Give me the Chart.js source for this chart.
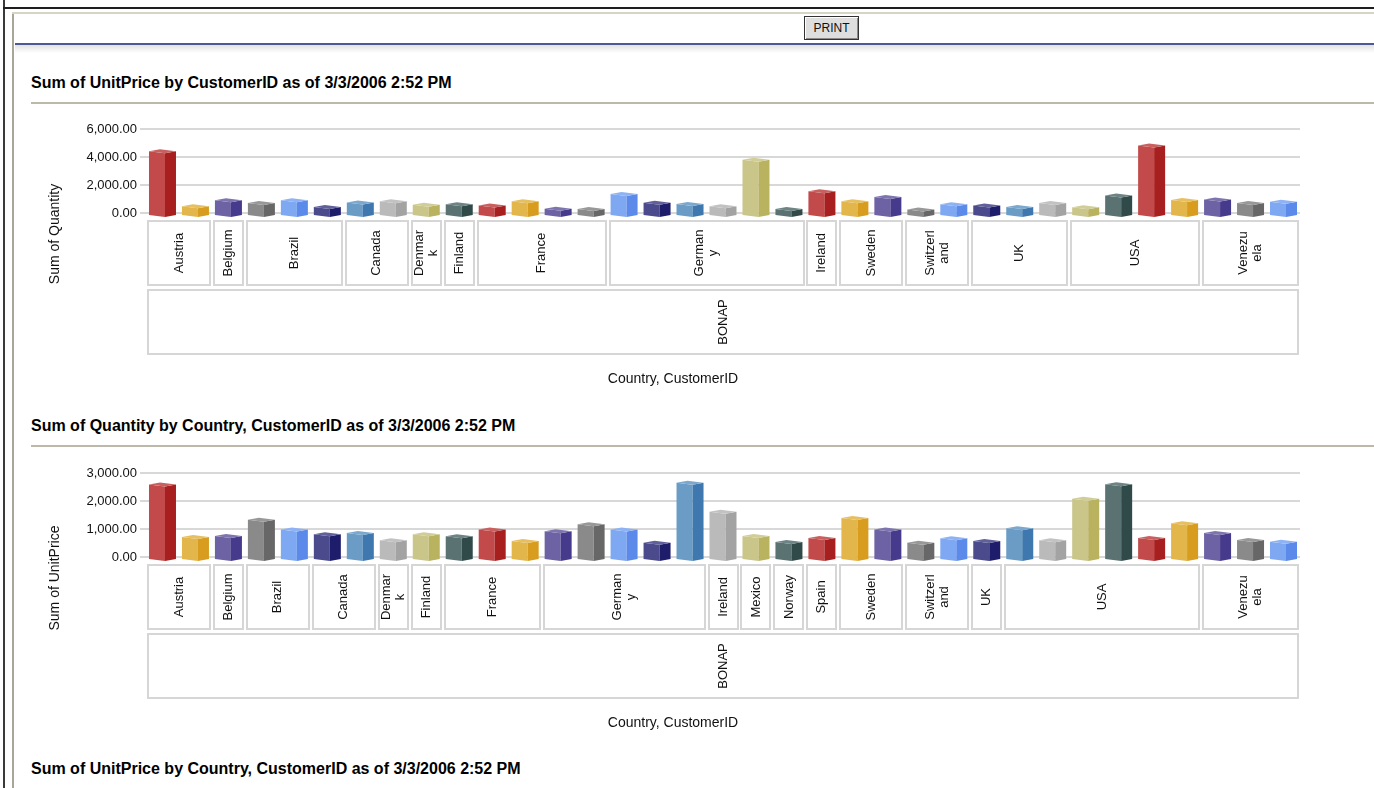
<!DOCTYPE html>
<html>
<head>
<meta charset="utf-8">
<title>Sales report</title>
<script src="https://cdn.jsdelivr.net/npm/chart.js@4.4.1/dist/chart.umd.min.js"></script>
<style>
  html, body { margin: 0; padding: 0; background: #fff; width: 1374px; height: 788px; overflow: hidden;
    font-family: "Liberation Sans", Arial, sans-serif; }
  .abs { position: absolute; }
  .frame-outer-v { left: 3px; top: 0; width: 2px; height: 788px; background: #3a3a3a; }
  .frame-outer-h { left: 3px; top: 7px; right: 0; height: 2px; background: #1e1e1e; }
  .frame-inner-v { left: 12px; top: 12px; width: 2px; height: 776px; background: #a9a698; }
  .frame-inner-h { left: 12px; top: 12px; right: 0; height: 2px; background: #d8d4c4; }
  .print { left: 804px; top: 16px; width: 55px; height: 24px; box-sizing: border-box;
    border: 1px solid #333; background: #dedede; box-shadow: inset 1px 1px #fff, inset -1px -1px #8a8a8a;
    font-size: 12px; line-height: 22px; text-align: center; color: #111; }
  .rule-blue { left: 15px; top: 43px; right: 0; height: 2px; background: #4b5a97; }
  .rule-shade { left: 15px; top: 45px; right: 0; height: 8px; background: linear-gradient(#e2e2e2, #fff); }
  .title { left: 31px; font-weight: bold; font-size: 16px; line-height: 16px; color: #000; white-space: nowrap; }
  .rule { left: 31px; right: 0; height: 2px; background: #bcb8aa; }
  canvas { position: absolute; left: 0; }
</style>
</head>
<body>
<div class="abs frame-outer-v"></div>
<div class="abs frame-outer-h"></div>
<div class="abs frame-inner-v"></div>
<div class="abs frame-inner-h"></div>
<div class="abs print">PRINT</div>
<div class="abs rule-blue"></div>
<div class="abs rule-shade"></div>

<div class="abs title" style="top:75px">Sum of UnitPrice by CustomerID as of 3/3/2006 2:52 PM</div>
<div class="abs rule" style="top:102px"></div>
<canvas id="chartQuantity" width="1374" height="290" style="top:110px"></canvas>

<div class="abs title" style="top:418px">Sum of Quantity by Country, CustomerID as of 3/3/2006 2:52 PM</div>
<div class="abs rule" style="top:445px"></div>
<canvas id="chartPrice" width="1374" height="290" style="top:454px"></canvas>

<div class="abs title" style="top:761px">Sum of UnitPrice by Country, CustomerID as of 3/3/2006 2:52 PM</div>

<script>
// ---- data ----
const customerId = 'BONAP';
const xAxisTitle = 'Country, CustomerID';

const countriesTop = [
  'Austria', 'Austria', 'Belgium', 'Brazil', 'Brazil', 'Brazil', 'Canada', 'Canada',
  'Denmark', 'Finland', 'France', 'France', 'France', 'France',
  'Germany', 'Germany', 'Germany', 'Germany', 'Germany', 'Germany',
  'Ireland', 'Sweden', 'Sweden', 'Switzerland', 'Switzerland', 'UK', 'UK', 'UK',
  'USA', 'USA', 'USA', 'USA', 'Venezuela', 'Venezuela', 'Venezuela'
];
const valuesTop = [
  4550, 620, 1050, 860, 1050, 570, 900, 980,
  740, 760, 670, 980, 450, 430,
  1500, 880, 790, 620, 3950, 430,
  1690, 980, 1290, 400, 760, 670, 570, 860,
  550, 1400, 4970, 1070, 1100, 860, 950
];
const ticksTop = { max: 6000, step: 2000 };
const yTitleTop = 'Sum of Quantity';

const countriesBottom = [
  'Austria', 'Austria', 'Belgium', 'Brazil', 'Brazil', 'Canada', 'Canada',
  'Denmark', 'Finland', 'France', 'France', 'France',
  'Germany', 'Germany', 'Germany', 'Germany', 'Germany',
  'Ireland', 'Mexico', 'Norway', 'Spain', 'Sweden', 'Sweden',
  'Switzerland', 'Switzerland', 'UK',
  'USA', 'USA', 'USA', 'USA', 'USA', 'USA', 'Venezuela', 'Venezuela', 'Venezuela'
];
const valuesBottom = [
  2660, 790, 820, 1400, 1050, 880, 930,
  670, 880, 810, 1050, 640,
  990, 1240, 1050, 580, 2720,
  1690, 820, 610, 750, 1460, 1050,
  580, 740, 640,
  1100, 670, 2150, 2670, 750, 1280, 930, 680, 620
];
const ticksBottom = { max: 3000, step: 1000 };
const yTitleBottom = 'Sum of UnitPrice';

// country names as they wrap inside their narrow boxes
const wrappedNames = {
  Denmark: ['Denmar', 'k'],
  Germany: ['German', 'y'],
  Switzerland: ['Switzerl', 'and'],
  Venezuela: ['Venezu', 'ela']
};

// ---- styling ----
const FONT = '"Liberation Sans", Arial, sans-serif';
const palette = [            // [front face, side face]
  ['#c24a4a', '#a81f1f'],
  ['#e3b64c', '#d89c1e'],
  ['#6c62a4', '#463a8c'],
  ['#8a8a8a', '#676767'],
  ['#7fa8f2', '#5b8aea'],
  ['#4a4a8c', '#1d1d6c'],
  ['#6a9cc6', '#3e78ae'],
  ['#bababa', '#a3a3a3'],
  ['#cac68a', '#b9b25f'],
  ['#5a7272', '#2f4a48']
];

function lighten(hex, t) {
  const n = parseInt(hex.slice(1), 16);
  const r = (n >> 16) & 255, g = (n >> 8) & 255, b = n & 255;
  const m = c => Math.round(c + (255 - c) * t);
  return `rgb(${m(r)},${m(g)},${m(b)})`;
}

function poly(ctx, pts, fill) {
  ctx.beginPath();
  ctx.moveTo(pts[0][0], pts[0][1]);
  for (let k = 1; k < pts.length; k++) ctx.lineTo(pts[k][0], pts[k][1]);
  ctx.closePath();
  ctx.fillStyle = fill;
  ctx.fill();
}

// 3D boxes on top of each bar element, then the grouped category boxes below the plot
const boxBars = {
  id: 'boxBars',
  afterDatasetsDraw(chart) {
    const ctx = chart.ctx;
    const meta = chart.getDatasetMeta(0);
    ctx.save();
    meta.data.forEach((el, i) => {
      const { x, y, base } = el.getProps(['x', 'y', 'base'], true);
      const [front, side] = palette[i % palette.length];
      const L = x - 13.5, M = x + 2.5, R = x + 13.5;
      poly(ctx, [[L, y + 2], [M, y + 4], [M, base + 5], [L, base + 3]], front);
      poly(ctx, [[M, y + 4], [R, y + 2], [R, base + 3], [M, base + 5]], side);
      poly(ctx, [[L, y + 2], [L + 11, y], [R, y + 2], [M, y + 4]], lighten(front, 0.12));
    });
    ctx.restore();
  },
  afterDraw(chart, args, opts) {
    const { ctx, chartArea: ca } = chart;
    const xs = chart.scales.x;
    const slot = xs.getPixelForValue(1) - xs.getPixelForValue(0);

    const groups = [];
    opts.countries.forEach((c, i) => {
      const g = groups[groups.length - 1];
      if (g && g.name === c) g.end = i; else groups.push({ name: c, start: i, end: i });
    });

    const drawBox = (l, t, r, b) => {
      ctx.lineWidth = 2;
      ctx.strokeStyle = '#d6d6d6';
      ctx.strokeRect(Math.round(l), Math.round(t), Math.round(r - l), Math.round(b - t));
    };
    const drawVertical = (lines, cx, cy, clip) => {
      ctx.save();
      if (clip) {
        ctx.beginPath();
        ctx.rect(clip[0], clip[1], clip[2] - clip[0], clip[3] - clip[1]);
        ctx.clip();
      }
      ctx.translate(cx, cy);
      ctx.rotate(-Math.PI / 2);
      ctx.font = '13px ' + FONT;
      ctx.fillStyle = '#111';
      ctx.textAlign = 'center';
      ctx.textBaseline = 'middle';
      lines.forEach((s, k) => ctx.fillText(s, 0, (k - (lines.length - 1) / 2) * 14));
      ctx.restore();
    };

    ctx.save();
    const rowT = ca.bottom + 8, rowB = ca.bottom + 72;
    let firstL = null, lastR = null;
    groups.forEach(g => {
      const l = xs.getPixelForValue(g.start) - slot / 2 + 2;
      const r = xs.getPixelForValue(g.end) + slot / 2 - 2;
      if (firstL === null) firstL = l;
      lastR = r;
      drawBox(l, rowT, r, rowB);
      const lines = wrappedNames[g.name] || [g.name];
      drawVertical(lines, (l + r) / 2, (rowT + rowB) / 2, [l + 2, rowT + 1, r - 1, rowB - 1]);
    });

    const custT = ca.bottom + 77, custB = ca.bottom + 141;
    drawBox(firstL, custT, lastR, custB);
    drawVertical([opts.customer], (firstL + lastR) / 2, (custT + custB) / 2, null);

    // axis titles
    ctx.fillStyle = '#111';
    ctx.font = '14px ' + FONT;
    ctx.textAlign = 'center';
    ctx.textBaseline = 'middle';
    ctx.fillText(opts.xTitle, 673, ca.bottom + 166);
    ctx.translate(55, ca.bottom + 21);
    ctx.rotate(-Math.PI / 2);
    ctx.fillText(opts.yTitle, 0, 0);
    ctx.restore();
  }
};

const fmt = v => v.toLocaleString('en-US', { minimumFractionDigits: 2, maximumFractionDigits: 2 });

function makeChart(id, countries, values, ticks, yTitle) {
  return new Chart(document.getElementById(id), {
    type: 'bar',
    data: {
      labels: countries,
      datasets: [{
        data: values,
        backgroundColor: 'rgba(0,0,0,0)',
        barThickness: 27
      }]
    },
    plugins: [boxBars],
    options: {
      responsive: false,
      animation: false,
      devicePixelRatio: 1,
      events: [],
      layout: { padding: { top: 19, right: 74, bottom: 0, left: 0 } },
      plugins: {
        legend: { display: false },
        tooltip: { enabled: false },
        boxBars: { countries, customer: customerId, xTitle: xAxisTitle, yTitle }
      },
      scales: {
        x: {
          offset: true,
          grid: { display: false },
          border: { display: false },
          ticks: { display: false },
          afterFit(s) { s.height = 187; }
        },
        y: {
          min: 0,
          max: ticks.max,
          ticks: {
            stepSize: ticks.step,
            padding: 3,
            color: '#111',
            font: { size: 13, family: FONT },
            callback: v => fmt(v)
          },
          grid: { color: '#d8d8d8', lineWidth: 2, tickLength: 6, drawTicks: true },
          border: { display: false },
          afterFit(s) { s.width = 146; }
        }
      }
    }
  });
}

makeChart('chartQuantity', countriesTop, valuesTop, ticksTop, yTitleTop);
makeChart('chartPrice', countriesBottom, valuesBottom, ticksBottom, yTitleBottom);
</script>
</body>
</html>
